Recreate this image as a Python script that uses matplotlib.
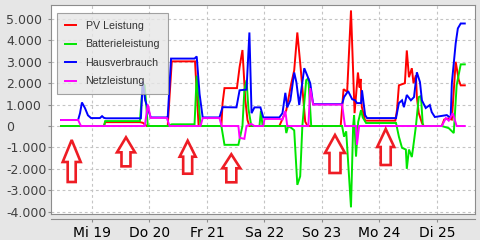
import matplotlib
matplotlib.use('Agg')
import matplotlib.pyplot as plt
from matplotlib.ticker import FixedLocator, FuncFormatter
from matplotlib.patches import Polygon
from matplotlib.lines import Line2D
from matplotlib.transforms import IdentityTransform

# time axis: hours since Di 18 00:00
pv_h = [11.1, 29.0, 29.5, 44.0, 45.2, 46.9, 55.6, 57.3, 67.0, 68.5, 78.0, 78.5, 79.3, 84.5, 85.6, 86.8, 88.0, 88.9, 89.7,
        102.2, 105.1, 107.2, 108.4, 109.7, 111.1, 113.0, 114.0, 127.8, 129.0, 130.5, 132.1, 133.6, 135.0, 135.7, 136.1,
        136.6, 138.0, 150.6, 151.3, 152.1, 154.6, 155.4, 156.3, 157.5, 158.2, 159.2, 159.6, 160.4, 161.7, 162.5, 170.0,
        171.0, 172.5, 174.2, 175.8, 177.1, 177.9, 179.6]
pv_w = [0, 0, 180, 180, 150, 0, 0, 3020, 3020, 0, 0, 1070, 1770, 1770, 2750, 3550, 1200, 280, 0,
        0, 740, 2000, 2600, 4370, 2700, 200, 0, 0, 1720, 1600, 5400, 600, 2500, 1800, 2200,
        900, 250, 250, 740, 1900, 2000, 3530, 2280, 2700, 2000, 2370, 1350, 600, 150, 0, 0,
        300, 350, 300, 3000, 2140, 1900, 1900]

bat_h = [11.1, 29.0, 29.5, 44.0, 45.2, 46.0, 47.3, 55.6, 57.3, 66.8, 67.7, 69.3, 78.0, 79.3, 85.1, 86.8, 87.6, 88.5,
         89.3, 90.5, 93.9, 94.5, 95.2, 104.7, 105.1, 105.9, 107.2, 108.4, 109.7, 110.9, 111.8, 113.4, 114.3, 115.5,
         128.4, 129.2, 130.1, 132.1, 133.0, 133.4, 134.2, 135.1, 136.3, 137.0, 138.4, 150.9, 152.1, 153.4, 155.0,
         155.4, 156.3, 157.5, 158.4, 159.2, 160.4, 161.3, 162.1, 170.0, 172.9, 175.0, 176.2, 177.9, 179.6]
bat_w = [0, 0, 230, 230, 2000, 1900, 0, 0, 80, 80, 2350, 0, 0, -880, -880, 0, 1670, 2140,
         800, 0, 0, 700, 0, 0, -330, 0, -90, -200, -2750, -2350, 0, 2140, 2230, 0,
         0, -500, -250, -3800, 0, 500, -1430, 190, 740, 400, 140, 140, -500, -1020, -1100,
         -2000, -1100, -1450, -700, 0, 1350, 1400, 0, 0, -100, -330, 1900, 2880, 2880]

house_h = [11.1, 18.2, 19.0, 19.8, 21.1, 22.3, 23.6, 27.3, 28.2, 29.0, 29.8, 44.4, 45.2, 46.2, 48.5, 55.2, 55.6, 57.0,
           66.8, 67.7, 68.9, 70.2, 77.2, 78.5, 84.3, 85.6, 88.5, 89.7, 90.6, 91.8, 94.3, 95.5, 102.2, 103.5, 104.7,
           105.5, 106.8, 108.4, 109.3, 110.5, 112.6, 113.8, 115.1, 116.3, 128.4, 129.2, 130.9, 132.6, 133.8, 134.6,
           136.3, 136.7, 138.0, 138.8, 150.9, 152.1, 153.4, 154.2, 155.4, 157.1, 158.4, 159.6, 160.9, 161.7, 163.3,
           165.0, 165.8, 167.1, 172.1, 173.7, 174.2, 175.8, 176.7, 177.9, 179.6]
house_w = [280, 280, 600, 1100, 830, 500, 370, 370, 460, 380, 360, 360, 2100, 1200, 400, 400, 400, 3150,
           3150, 3250, 1500, 400, 400, 880, 870, 1670, 1700, 4370, 600, 870, 870, 400, 400, 600, 1550,
           870, 1200, 2500, 2050, 980, 2700, 2370, 2000, 1020, 1020, 1350, 1630, 1250, 1200, 1070,
           1070, 1670, 510, 370, 370, 1070, 1200, 880, 1450, 1200, 1350, 2510, 2050, 1200, 840,
           980, 650, 420, 510, 370, 2000, 3860, 4560, 4790, 4790]

grid_h = [11.1, 18.2, 19.4, 46.0, 47.3, 48.5, 55.2, 56.4, 69.3, 70.2, 77.2, 78.1, 85.1, 85.6, 87.6, 88.5, 90.5, 91.8,
          95.5, 96.0, 102.2, 103.5, 104.7, 105.5, 114.3, 115.1, 116.3, 128.4, 129.6, 134.2, 134.6, 135.5, 170.0,
          171.7, 172.9, 174.6, 176.2, 179.6]
grid_w = [280, 280, 0, 0, 1000, 380, 380, 0, 0, 370, 370, 0, 0, -550, -600, 0, 100, 0,
          0, 330, 330, 300, 700, 0, 0, 1770, 1000, 1000, 0, 0, -880, 0, 0,
          370, 250, 600, 0, 0]

series_names = ['PV Leistung', 'Batterieleistung', 'Hausverbrauch', 'Netzleistung']
day_ticks = [1, 2, 3, 4, 5, 6, 7]
day_labels = ['Mi 19', 'Do 20', 'Fr 21', 'Sa 22', 'So 23', 'Mo 24', 'Di 25']
y_ticks = [-4000, -3000, -2000, -1000, 0, 1000, 2000, 3000, 4000, 5000]

# annotation arrows: (day, tip value)
arrow_day = [0.647, 1.591, 2.664, 3.423, 5.226, 6.108]
arrow_tip = [-654, -530, -687, -1322, -420, -140]
arrow_px = [(22, 18, 20, 8), (15, 18, 14, 9), (16, 16, 17, 9), (14, 18, 14, 10), (18, 20, 20, 11), (18, 17, 18, 10)]

W, H = 480, 240
fig = plt.figure(figsize=(4.8, 2.4), dpi=100, facecolor='#e6e6e6')
ax = fig.add_axes([51 / W, 1 - 214 / H, 424 / W, 209 / H])
ax.set_facecolor('white')

colors = ['#ff0000', '#00e600', '#0000ff', '#ff00ff']
data = [(pv_h, pv_w), (bat_h, bat_w), (house_h, house_w), (grid_h, grid_w)]
for (hh, ww), c, name in zip(data, colors, series_names):
    ax.plot([h / 24 for h in hh], ww, color=c, lw=1.4, label=name, solid_joinstyle='miter')

ax.set_xlim(0.287, 7.661)
ax.set_ylim(-4112, 5654)
ax.xaxis.set_major_locator(FixedLocator(day_ticks))
ax.set_xticklabels(day_labels, fontsize=8.3, family='Liberation Sans', color='#404040')
ax.yaxis.set_major_locator(FixedLocator(y_ticks))
ax.yaxis.set_major_formatter(FuncFormatter(lambda v, p: f"{v:,.0f}".replace(',', '.')))
ax.grid(True, color='#c4c4c4', linestyle=(0, (2.5, 2.5)), linewidth=0.8)
ax.set_axisbelow(True)

for s in ['top', 'right', 'left']:
    ax.spines[s].set_color('#8c8c8c')
    ax.spines[s].set_linewidth(0.8)
ax.spines['bottom'].set_position(('outward', 3.6))
ax.spines['bottom'].set_color('#8c8c8c')
ax.spines['bottom'].set_linewidth(0.8)
ax.add_line(Line2D([0, 1], [0, 0], transform=ax.transAxes, color='#8c8c8c', lw=0.8, clip_on=False))

ax.tick_params(axis='both', direction='out', length=2.5, width=0.8, color='#8c8c8c')
ax.tick_params(axis='x', pad=2.5)
ax.tick_params(axis='y', pad=29.9, labelsize=9, labelcolor='#404040')
for lab in ax.get_yticklabels():
    lab.set_horizontalalignment('left')
    lab.set_family('DejaVu Sans')

leg = ax.legend(loc='upper left', bbox_to_anchor=(0.014, 0.963), borderaxespad=0,
                prop={'family': 'Liberation Sans', 'size': 7.7}, handlelength=1.0,
                handletextpad=0.93, labelspacing=0.8, borderpad=0.75,
                fancybox=False, framealpha=0.8, facecolor='#e6e6e6', edgecolor='#8c8c8c')
leg.get_frame().set_linewidth(0.8)
for t in leg.get_texts():
    t.set_color('#333333')

# arrows drawn in pixel space anchored at data coordinates
for d, v, (hl, hw, sl, sw) in zip(arrow_day, arrow_tip, arrow_px):
    cx, ty = ax.transData.transform((d, v))
    hb = ty - hl
    bb = hb - sl
    verts = [(cx, ty), (cx + hw / 2, hb), (cx + sw / 2, hb), (cx + sw / 2, bb),
             (cx - sw / 2, bb), (cx - sw / 2, hb), (cx - hw / 2, hb)]
    fig.add_artist(Polygon(verts, closed=True, facecolor='white', edgecolor='#ee1c24',
                           lw=1.9, transform=IdentityTransform(), joinstyle='miter'))

fig.savefig('out.png', dpi=100, facecolor=fig.get_facecolor())
